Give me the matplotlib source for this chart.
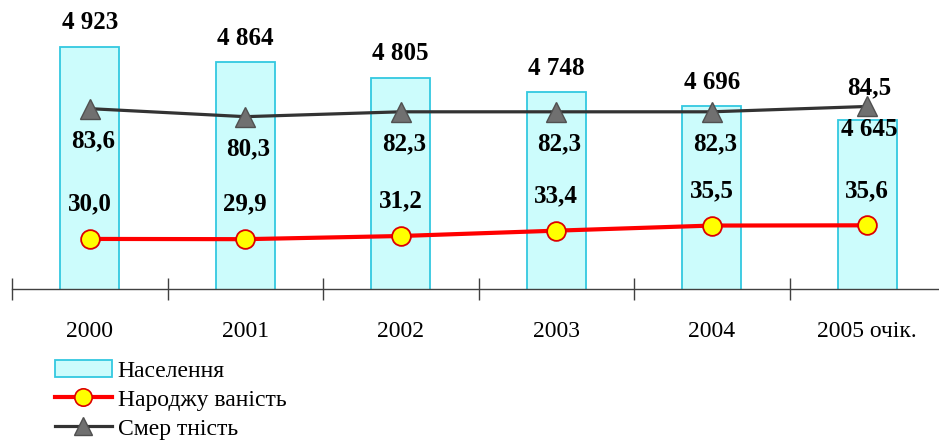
import matplotlib
matplotlib.use("Agg")
import matplotlib.pyplot as plt
from matplotlib.patches import Patch
from matplotlib.lines import Line2D
import numpy as np

categories = ["2000", "2001", "2002", "2003", "2004", "2005 очік."]
population = [4923, 4864, 4805, 4748, 4696, 4645]
birth_rate = [30.0, 29.9, 31.2, 33.4, 35.5, 35.6]
mortality = [83.6, 80.3, 82.3, 82.3, 82.3, 84.5]
pop_labels = ["4 923", "4 864", "4 805", "4 748", "4 696", "4 645"]
legend_labels = ["Населення", "Народжу ваність", "Смер тність"]

def fmt(v):
    return f"{v:.1f}".replace(".", ",")

plt.rcParams['font.family'] = ['Liberation Serif', 'DejaVu Serif']

W, H = 939, 442
fig = plt.figure(figsize=(W / 100, H / 100), dpi=100)
left_px, right_px, top_px, bottom_px = 12, 945, 0, 289
ax = fig.add_axes([left_px / W, 1 - bottom_px / H,
                   (right_px - left_px) / W, (bottom_px - top_px) / H])
ax2 = ax.twinx()

NUM_FS = 18

x = np.arange(len(categories))
ax.bar(x, population, width=0.38, bottom=0, color="#ccfcfc",
       edgecolor="#33c8e0", linewidth=1.3, zorder=2)
ax.set_ylim(4000, 5100)
ax.set_xlim(-0.5, len(categories) - 0.5)

ax2.plot(x, birth_rate, color="#ff0000", lw=3, marker="o", ms=13.5,
         mfc="#ffff00", mec="#dd0000", mew=1.3, zorder=5)
ax2.plot(x, mortality, color="#333333", lw=2.3, marker="^", ms=15,
         mfc="#707070", mec="#505050", mew=1, zorder=5)
ax2.set_ylim(9.4, 128.3)

for a in (ax, ax2):
    for s in ("top", "left", "right"):
        a.spines[s].set_visible(False)
    a.set_yticks([])
ax.spines["bottom"].set_color("#404040")
ax.spines["bottom"].set_linewidth(1)
ax2.spines["bottom"].set_visible(False)

ax.set_xticks(np.arange(-0.5, len(categories) + 0.5, 1))
ax.set_xticklabels([])
ax.tick_params(axis="x", direction="inout", length=16, width=1, color="#404040")
for i, c in enumerate(categories):
    ax.annotate(c, (i, 4000), xytext=(0, -43), textcoords="offset pixels",
                ha="center", va="center", fontsize=17, annotation_clip=False)

# bar labels
for i, (v, lab) in enumerate(zip(population, pop_labels)):
    if i == len(population) - 1:
        ax.annotate(lab, (i, v), xytext=(2, -10), textcoords="offset pixels",
                    ha="center", va="center", fontsize=NUM_FS, fontweight="bold",
                    zorder=10, annotation_clip=False)
    else:
        ax.annotate(lab, (i, v), xytext=(0, 24), textcoords="offset pixels",
                    ha="center", va="center", fontsize=NUM_FS, fontweight="bold",
                    annotation_clip=False)

for i, v in enumerate(birth_rate):
    ax2.annotate(fmt(v), (i, v), xytext=(0, 35), textcoords="offset pixels",
                 ha="center", va="center", fontsize=NUM_FS, fontweight="bold")

for i, v in enumerate(mortality):
    if i == len(mortality) - 1:
        off = (2, 19)
    else:
        off = (3, -32)
    ax2.annotate(fmt(v), (i, v), xytext=off, textcoords="offset pixels",
                 ha="center", va="center", fontsize=NUM_FS, fontweight="bold")

handles = [
    Patch(facecolor="#ccfcfc", edgecolor="#33c8e0", linewidth=1.3),
    Line2D([], [], color="#ff0000", lw=3, marker="o", ms=12.5,
           mfc="#ffff00", mec="#dd0000", mew=1.2),
    Line2D([], [], color="#333333", lw=2.3, marker="^", ms=13.5,
           mfc="#707070", mec="#505050", mew=1),
]
fig.legend(handles, legend_labels, loc="upper left",
           bbox_to_anchor=(55 / W, 1 - 360 / H), frameon=False,
           fontsize=17, handlelength=2.4, handletextpad=0.25,
           labelspacing=0.32, borderpad=0, borderaxespad=0)

fig.savefig("out.png", dpi=100)
